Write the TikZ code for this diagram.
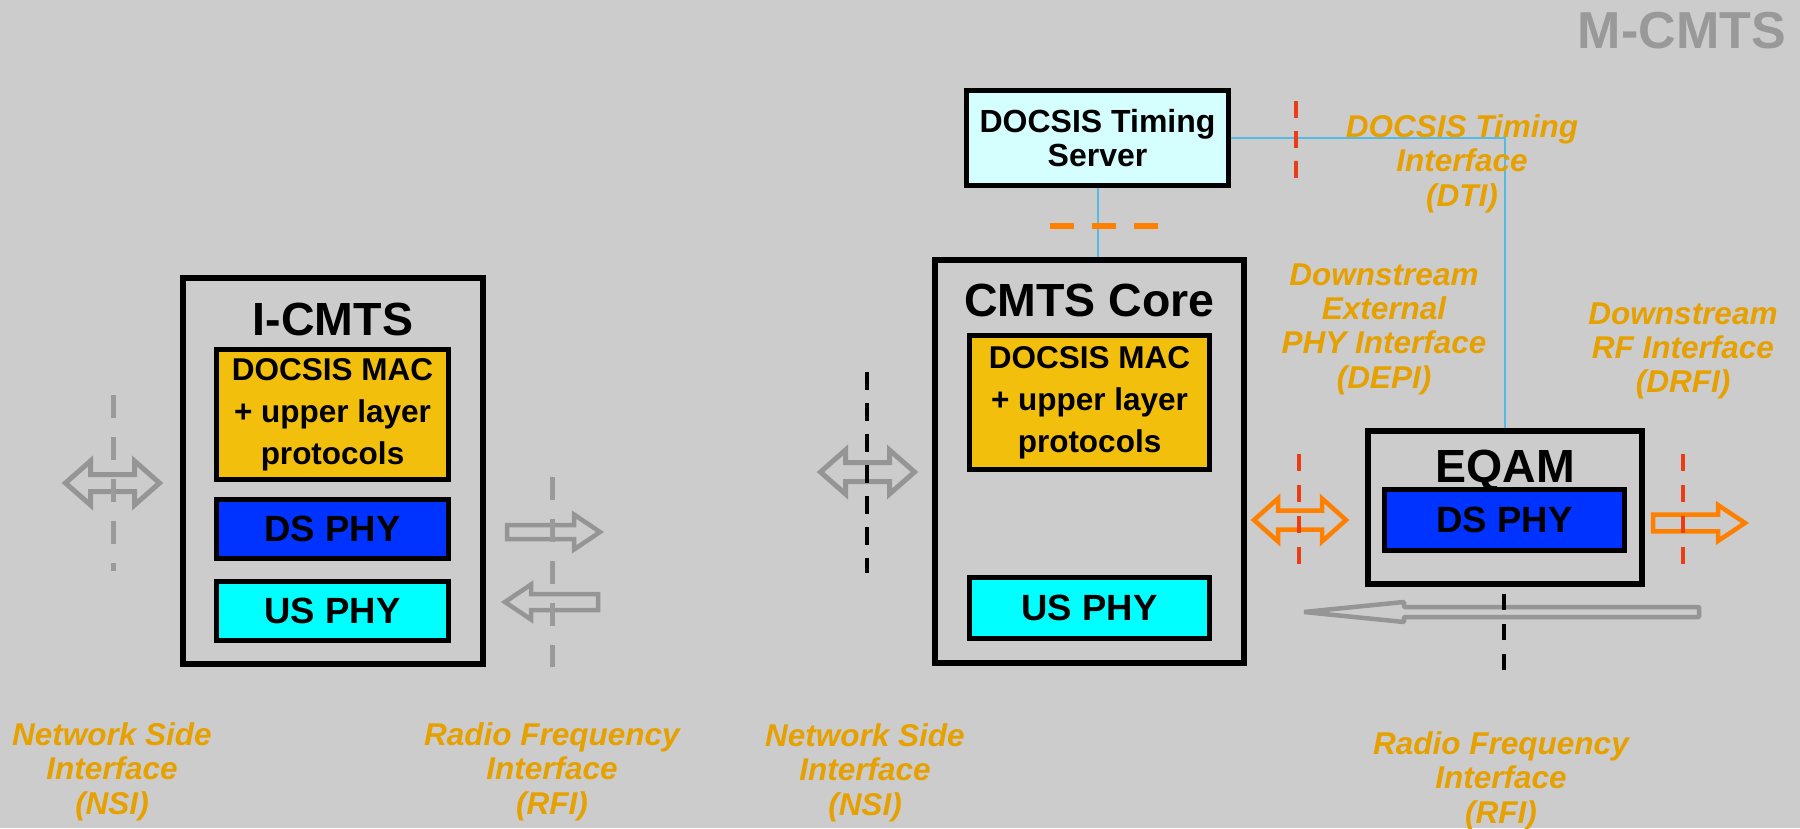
\documentclass[tikz,border=0pt]{standalone}
\usepackage{fontspec}
\setmainfont{Liberation Sans}
\definecolor{bg}{HTML}{CCCCCC}
\definecolor{macgold}{HTML}{F2BF0C}
\definecolor{dsblue}{HTML}{0033FF}
\definecolor{uscyan}{HTML}{00FFFF}
\definecolor{dtifill}{HTML}{D5FFFF}
\definecolor{arrgray}{HTML}{959595}
\definecolor{dashgray}{HTML}{9A9A9A}
\definecolor{titlegray}{HTML}{999999}
\definecolor{orng}{HTML}{FF8000}
\definecolor{redd}{HTML}{EB3C14}
\definecolor{lblgold}{HTML}{E6A000}
\definecolor{tline}{HTML}{55BBE6}
% double hollow arrow: colour, line width, cx, cy, half length, head half height, shaft half height, head length
\newcommand{\mydblarrow}[8]{%
  \draw[#1,line width=#2,line join=miter]
   ({#3-#5},#4) -- ({#3-#5+#8},{#4-#6}) -- ({#3-#5+#8},{#4-#7}) -- ({#3+#5-#8},{#4-#7})
   -- ({#3+#5-#8},{#4-#6}) -- ({#3+#5},#4) -- ({#3+#5-#8},{#4+#6}) -- ({#3+#5-#8},{#4+#7})
   -- ({#3-#5+#8},{#4+#7}) -- ({#3-#5+#8},{#4+#6}) -- cycle;}
% single hollow arrow: style, xtail, xbase, xtip, cy, head half height, shaft half height
\newcommand{\mysglarrow}[7]{%
  \draw[#1] (#2,{#5-#7}) -- (#3,{#5-#7}) -- (#3,{#5-#6}) -- (#4,#5) -- (#3,{#5+#6})
   -- (#3,{#5+#7}) -- (#2,{#5+#7}) -- cycle;}
\begin{document}
\begin{tikzpicture}[x=1pt,y=-1pt,
  outerbox/.style={draw=black,line width=6pt,fill=bg,inner sep=0pt},
  innerbox/.style={draw=black,line width=5pt,inner sep=0pt,align=center,
    font=\fontsize{31.5}{42}\selectfont\bfseries},
  phybox/.style={innerbox,font=\fontsize{36.5}{40}\selectfont\bfseries},
  boxtitle/.style={font=\fontsize{46.5}{50}\selectfont\bfseries,inner sep=0pt,anchor=base},
  lbl/.style={font=\fontsize{31.5}{34.3}\selectfont\bfseries\itshape,text=lblgold,
    align=center,inner sep=0pt,anchor=north},
  tl/.style={draw=tline,line width=2pt},
  graydash/.style={draw=dashgray,line width=5pt,dash pattern=on 23pt off 19pt},
  blackdash/.style={draw=black,line width=4pt,dash pattern=on 18pt off 13pt},
  reddash/.style={draw=redd,line width=4pt,dash pattern=on 17pt off 14pt},
  orgdash/.style={draw=orng,line width=6pt,dash pattern=on 24pt off 18pt}]
\fill[bg] (0,0) rectangle (1800,828);
\useasboundingbox (0,0) rectangle (1800,828);

% title
\node[font=\fontsize{52}{56}\selectfont\bfseries,text=titlegray,anchor=base east,inner sep=0pt]
  (mcmts) at (1786,48) {M-CMTS};

% I-CMTS
\node[outerbox,minimum width=300pt,minimum height=386pt] (icmts) at (333,471) {};
\node[boxtitle] (icmtsT) at (333,335) {I-CMTS};
\node[innerbox,fill=macgold,minimum width=232pt,minimum height=130pt] (imac) at (332.5,414.5)
  {DOCSIS MAC\\+ upper layer\\protocols};
\node[phybox,fill=dsblue,minimum width=232pt,minimum height=59pt] (ids) at (332.5,529) {DS PHY};
\node[phybox,fill=uscyan,minimum width=232pt,minimum height=59pt] (ius) at (332.5,611) {US PHY};

% Timing server
\node[draw=black,line width=5pt,fill=dtifill,inner sep=0pt,align=center,
  font=\fontsize{32}{34}\selectfont\bfseries,minimum width=262pt,minimum height=95pt]
  (dts) at (1097.5,138) {DOCSIS Timing\\Server};

% CMTS Core
\node[outerbox,minimum width=309pt,minimum height=403pt] (core) at (1089.5,461.5) {};
\node[boxtitle] (coreT) at (1089.5,316) {CMTS Core};
\node[innerbox,fill=macgold,minimum width=240pt,minimum height=134pt] (cmac) at (1089.5,402.5)
  {DOCSIS MAC\\+ upper layer\\protocols};
\node[phybox,fill=uscyan,minimum width=240pt,minimum height=61pt] (cus) at (1089.5,608) {US PHY};

% EQAM
\node[outerbox,minimum width=274pt,minimum height=153pt] (eqam) at (1505,507.5) {};
\node[boxtitle] (eqamT) at (1505,482) {EQAM};
\node[phybox,fill=dsblue,minimum width=240pt,minimum height=61pt] (eds) at (1504.5,520) {DS PHY};

% timing connectors
\draw[tl] (dts.south) -- (dts.south |- core.north);
\draw[tl] (dts.east) -| (eqam.north);

% hollow arrows
\mydblarrow{arrgray}{5pt}{112.5}{483}{47}{22}{8.5}{25}
\mydblarrow{arrgray}{5pt}{867.5}{472}{47}{22}{9.5}{25}
\mysglarrow{arrgray,line width=4.5pt,line join=miter}{507}{574}{600}{532}{17.5}{7}
\mysglarrow{arrgray,line width=4.5pt,line join=miter}{598}{531}{505}{602}{17.5}{8}
\mydblarrow{orng}{4.5pt}{1300}{520}{46}{21.5}{9.5}{24}
\mysglarrow{orng,line width=4.5pt,line join=miter}{1653}{1718}{1745}{523}{18}{8.3}
\mysglarrow{arrgray,line width=4.5pt,line join=bevel}{1699}{1404}{1304}{612}{10}{5}

% interface dashed lines
\coordinate (nsiLa) at (113,395);  \coordinate (nsiLb) at (113,571);
\coordinate (rfiLa) at (552,477);  \coordinate (rfiLb) at (552,667);
\coordinate (nsiMa) at (867,372);  \coordinate (nsiMb) at (867,573);
\coordinate (rfiRa) at (1504,594); \coordinate (rfiRb) at (1504,673);
\coordinate (dtiA) at (1296,101);  \coordinate (dtiB) at (1296,181);
\coordinate (depiA) at (1299,454); \coordinate (depiB) at (1299,566);
\coordinate (drfiA) at (1683,454); \coordinate (drfiB) at (1683,566);
\coordinate (orA) at (1050,226);   \coordinate (orB) at (1158,226);
\draw[graydash] (nsiLa) -- (nsiLb);
\draw[graydash] (rfiLa) -- (rfiLb);
\draw[blackdash] (nsiMa) -- (nsiMb);
\draw[blackdash,line width=3.5pt,dash pattern=on 16pt off 14pt] (rfiRa) -- (rfiRb);
\draw[reddash,dash pattern=on 17pt off 13pt] (dtiA) -- (dtiB);
\draw[reddash] (depiA) -- (depiB);
\draw[reddash] (drfiA) -- (drfiB);
\draw[orgdash] (orA) -- (orB);

% labels
\node[lbl] (lnsiL) at (112,722.5) {Network Side\\Interface\\(NSI)};
\node[lbl] (lrfiL) at (552,722.5) {Radio Frequency\\Interface\\(RFI)};
\node[lbl] (lnsiM) at (865,723.5) {Network Side\\Interface\\(NSI)};
\node[lbl] (lrfiR) at (1501,731.5) {Radio Frequency\\Interface\\(RFI)};
\node[lbl] (ldti) at (1462,114.5) {DOCSIS Timing\\Interface\\(DTI)};
\node[lbl] (ldepi) at (1384,263.5) {Downstream\\External\\PHY Interface\\(DEPI)};
\node[lbl] (ldrfi) at (1683,302.5) {Downstream\\RF Interface\\(DRFI)};
\end{tikzpicture}
\end{document}
